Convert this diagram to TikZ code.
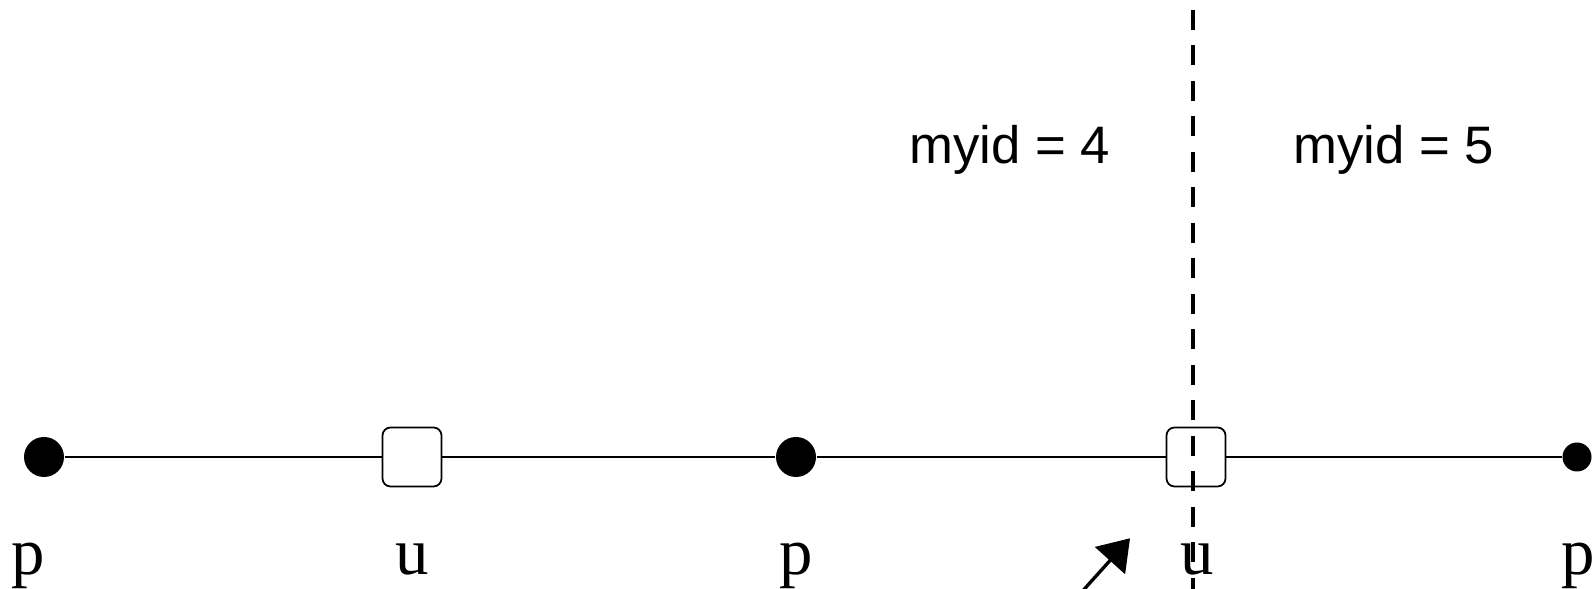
\documentclass[tikz,border=0pt]{standalone}
\usepackage{fontspec}
\setmainfont{Liberation Serif}
\newfontfamily\labelsans{Liberation Sans}
\usetikzlibrary{arrows.meta}

\begin{document}
\begin{tikzpicture}[
  pnode/.style={circle, fill=black, inner sep=0pt, minimum size=0.4cm},
  unode/.style={draw=black, line width=0.5pt, fill=white, rounded corners=0.08cm,
                inner sep=0pt, minimum size=0.59cm},
  wire/.style={line width=0.5pt},
  vlbl/.style={font=\fontsize{19}{22}\selectfont, anchor=base, inner sep=0pt},
  idlbl/.style={font=\labelsans\fontsize{15}{18}\selectfont, anchor=base, inner sep=0pt},
  split/.style={line width=1.15pt, dash pattern=on 0.2cm off 0.155cm, dash phase=0.255cm},
  pointer/.style={line width=0.95pt, -{Triangle[length=0.3cm, width=0.4cm]}}
]
  \useasboundingbox (0,0) rectangle (15.96,5.89);
  \clip (0,0) rectangle (15.96,5.89);

  % grid points
  \node[pnode] (p1) at (0.44,1.32)  {};
  \node[unode] (u1) at (4.12,1.32)  {};
  \node[pnode] (p2) at (7.96,1.32)  {};
  \node[unode] (u2) at (11.96,1.32) {};
  \node[pnode, minimum size=0.29cm] (p3) at (15.77,1.32) {};

  \draw[wire] (p1) -- (u1) -- (p2) -- (u2) -- (p3);

  % point labels
  \node[vlbl] (lp1) at (0.28,0.14)  {p};
  \node[vlbl] (lu1) at (4.12,0.14)  {u};
  \node[vlbl] (lp2) at (7.96,0.14)  {p};
  \node[vlbl] (lu2) at (11.97,0.14) {u};
  \node[vlbl] (lp3) at (15.78,0.14) {p};

  % process ids
  \node[idlbl] (id4) at (10.095,4.25) {myid = 4};
  \node[idlbl] (id5) at (13.94,4.25)  {myid = 5};

  % process boundary
  \coordinate (divtop) at (11.93,5.89);
  \coordinate (divbot) at (11.93,0);
  \draw[split] (divtop) -- (divbot);

  \coordinate (arrtail) at (10.70,-0.16);
  \coordinate (arrtip)  at (11.30,0.507);
  \draw[pointer] (arrtail) -- (arrtip);
\end{tikzpicture}
\end{document}
